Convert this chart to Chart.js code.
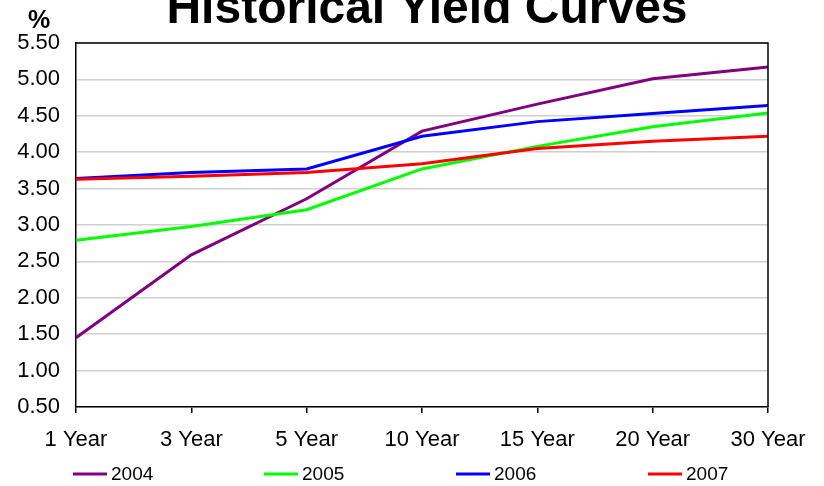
<!DOCTYPE html>
<html>
<head>
<meta charset="utf-8">
<script src="https://cdn.jsdelivr.net/npm/chart.js@4.4.0/dist/chart.umd.min.js"></script>
<style>
  html, body { margin: 0; padding: 0; background: #fff; }
  #wrap { width: 824px; height: 486px; position: relative; }
</style>
</head>
<body>
<div id="wrap"><canvas id="c" width="824" height="486"></canvas></div>
<script>
const categories = ["1 Year", "3 Year", "5 Year", "10 Year", "15 Year", "20 Year", "30 Year"];
const seriesNames = ["2004", "2005", "2006", "2007"];
const y2004 = [1.45, 2.59, 3.36, 4.29, 4.66, 5.01, 5.17];
const y2005 = [2.79, 2.98, 3.21, 3.77, 4.08, 4.35, 4.54];
const y2006 = [3.64, 3.72, 3.77, 4.22, 4.42, 4.53, 4.64];
const y2007 = [3.63, 3.67, 3.72, 3.84, 4.05, 4.15, 4.22];
const seriesColors = ["#800080", "#00ff00", "#0000ff", "#ff0000"];
const titleText = "Historical Yield Curves";
const unitText = "%";

const FONT = "'Liberation Sans', Arial, sans-serif";

const overlay = {
  id: 'overlay',
  afterDraw(chart) {
    const ctx = chart.ctx;
    const a = chart.chartArea;
    ctx.save();
    ctx.strokeStyle = '#000';
    ctx.lineWidth = 1.5;
    ctx.beginPath();
    ctx.moveTo(a.left, a.top);
    ctx.lineTo(a.right, a.top);
    ctx.lineTo(a.right, a.bottom);
    ctx.stroke();
    ctx.fillStyle = '#000';
    ctx.textAlign = 'center';
    ctx.textBaseline = 'alphabetic';
    ctx.font = "bold 48px " + FONT;
    ctx.fillText(titleText, 427, 23);
    ctx.font = "bold 25px " + FONT;
    ctx.fillText(unitText, 39, 28);
    const xs = [73, 264, 456, 648];
    const ly = 474;
    ctx.font = "19px " + FONT;
    ctx.textAlign = 'left';
    ctx.textBaseline = 'middle';
    chart.data.datasets.forEach((ds, i) => {
      ctx.strokeStyle = ds.borderColor;
      ctx.lineWidth = 3;
      ctx.beginPath();
      ctx.moveTo(xs[i], ly);
      ctx.lineTo(xs[i] + 34, ly);
      ctx.stroke();
      ctx.fillStyle = '#000';
      ctx.fillText(ds.label, xs[i] + 38, ly + 1);
    });
    ctx.restore();
  }
};

const dataArrays = [y2004, y2005, y2006, y2007];
new Chart(document.getElementById('c'), {
  type: 'line',
  data: {
    labels: categories,
    datasets: seriesNames.map((n, i) => ({
      label: n,
      data: dataArrays[i],
      borderColor: seriesColors[i],
      backgroundColor: seriesColors[i],
      borderWidth: 3,
      pointRadius: 0,
      tension: 0,
      fill: false,
      order: 3 - i
    }))
  },
  options: {
    responsive: false,
    animation: false,
    layout: { padding: { left: 0, right: 56, top: 43, bottom: 0 } },
    plugins: { legend: { display: false }, title: { display: false }, tooltip: { enabled: false } },
    scales: {
      x: {
        offset: false,
        grid: { drawOnChartArea: false, drawTicks: true, tickLength: 6, color: '#000', lineWidth: 1.5 },
        border: { color: '#000', width: 1.5 },
        ticks: { color: '#000', font: { family: FONT, size: 22 }, padding: 14, maxRotation: 0, autoSkip: false },
        afterFit(s) { s.height = 79; }
      },
      y: {
        min: 0.5, max: 5.5,
        grid: { color: '#d0d0d0', lineWidth: 1.5, drawTicks: false },
        border: { color: '#000', width: 1.5 },
        ticks: { stepSize: 0.5, color: '#000', font: { family: FONT, size: 22 }, padding: 16,
                 callback: v => Number(v).toFixed(2) },
        afterFit(s) { s.width = 76; }
      }
    }
  },
  plugins: [overlay]
});
</script>
</body>
</html>
